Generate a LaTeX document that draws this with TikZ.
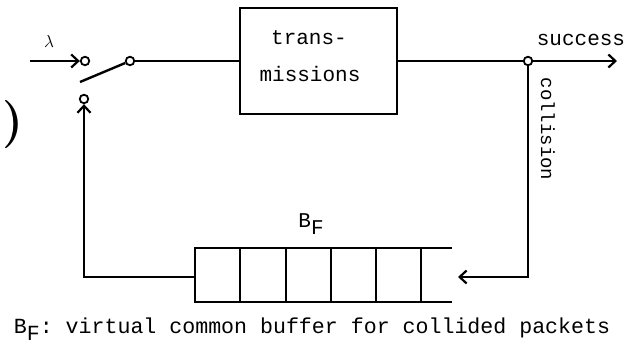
\documentclass[tikz,border=0pt]{standalone}
\usepackage{fontspec}
\setmonofont{Liberation Mono}
\usetikzlibrary{arrows.meta}
\begin{document}
\begin{tikzpicture}[x=1pt,y=-1pt,
  ln/.style={line width=2.4pt},
  arr/.style={ln,-{Straight Barb[length=7pt,width=13pt,line width=2.2pt]}},
  port/.style={circle,draw,line width=1.8pt,inner sep=0pt,minimum size=8.5pt,fill=white},
  txt/.style={font=\fontsize{21}{23}\selectfont\ttfamily,inner sep=0pt},
  ctxt/.style={font=\fontsize{21.6}{23}\selectfont\ttfamily,inner sep=0pt},
  stxt/.style={font=\fontsize{19}{21}\selectfont\ttfamily,inner sep=0pt}]
\useasboundingbox (0,0) rectangle (624,347);
% switch
\node[port] (in) at (85,61) {};
\node[port] (out) at (130,61) {};
\node[port] (fb) at (84,99) {};
\coordinate (src) at (30,61);
\coordinate (lev) at (80,82);
\node[font=\fontsize{18}{18}\selectfont,inner sep=0pt] (lam) at (49,42) {$\lambda$};
\draw[arr] (src) -- (in);
\draw[ln] (lev) -- (out);
% transmissions box
\node[draw,ln,minimum width=157pt,minimum height=106pt,inner sep=0pt] (tx) at (318.5,61) {};
\node[txt] (t1) at (309,38) {trans-};
\node[txt] (t2) at (310,74) {missions};
\draw[ln] (out) -- (tx.west);
% junction and success
\node[port] (junc) at (528,61) {};
\coordinate (succ) at (617,61);
\draw[ln] (tx.east) -- (junc);
\draw[arr] (junc) -- (succ);
\node[txt] (stext) at (581,40) {success};
\node[stxt,rotate=-90] (coll) at (548,129) {collision};
% buffer
\coordinate (bufL) at (195,277);
\coordinate (bufin) at (458,277);
\draw[ln] (452,248) -- (195,248) -- (195,302) -- (452,302);
\foreach \x in {240,286,331,376,421} \draw[ln] (\x,248) -- (\x,302);
\node[txt] (bflab) at (311,224) {B\raisebox{-0.6ex}{F}};
% collision path
\coordinate (c1) at (528,277);
\draw[arr] (junc) -- (c1) -- (bufin);
% feedback path
\coordinate (f1) at (84,277);
\draw[arr] (bufL) -- (f1) -- (fb);
% caption
\node[ctxt] (cap) at (312,329) {B\raisebox{-0.6ex}{F}: virtual common buffer for collided packets};
% fragment at left edge
\node[font=\fontsize{48}{48}\selectfont\bfseries,inner sep=0pt] (frag) at (13,125) {)};
\end{tikzpicture}
\end{document}
